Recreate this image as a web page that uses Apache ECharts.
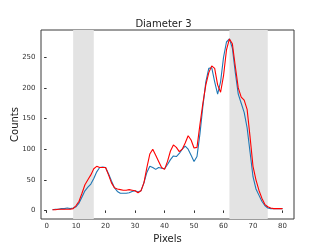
<!DOCTYPE html>
<html><head><meta charset="utf-8">
<script src="https://cdn.jsdelivr.net/npm/echarts@6/dist/echarts.min.js"></script>
<style>html,body{margin:0;padding:0;background:#fff}#c{width:327px;height:246px}</style>
</head><body><div id="c"></div>
<script>
const pixels = [];
for (let i = 2; i <= 80; i++) pixels.push(i);
const blueCounts = [1,2,2,3,3,4,3,4,6,12,22,32,38,43,52,63,70,71,70,60,48,37,31,28,28,28,29,31,32,30,32,45,62,72,70,67,70,69,68,75,83,89,88,93,100,105,100,90,80,88,125,170,210,232,233,210,190,210,250,275,280,265,225,190,175,160,135,95,55,35,25,15,8,4,3,3,3,3,3];
const redCounts = [1,1,2,2,2,2,2,3,8,15,28,42,50,58,68,72,70,70,70,58,45,37,35,34,33,33,34,33,32,29,32,45,70,92,100,90,80,70,67,80,97,107,103,96,100,110,122,115,102,103,140,175,205,225,236,232,205,193,220,262,280,272,235,200,185,180,165,120,72,50,33,20,10,6,4,3,3,3,3];
const shadedRanges = [[9,16],[62,75]];
const xTicks = [0,10,20,30,40,50,60,70,80];
const yTicks = [0,50,100,150,200,250];

const chart = echarts.init(document.getElementById('c'), null, {renderer:'canvas'});
const font = 'DejaVu Sans';
chart.setOption({
  animation:false,
  title:{text:'Diameter 3', left:'center', top:14, textStyle:{fontFamily:font,fontSize:10,fontWeight:'normal',color:'#222'}},
  grid:{left:41,right:33,top:30,bottom:27,outerBoundsMode:'none',containLabel:false,show:true,borderColor:'#3a3a3a',borderWidth:1,backgroundColor:'transparent'},
  xAxis:{type:'value',min:-1.9,max:83.9,
    name:'Pixels',nameLocation:'middle',nameGap:15,nameMoveOverlap:false,nameTextStyle:{fontFamily:font,fontSize:10,color:'#222'},
    axisLine:{show:false},splitLine:{show:false},
    axisTick:{show:true,length:2.5,customValues:xTicks,lineStyle:{color:'#333'}},
    axisLabel:{customValues:xTicks,fontFamily:font,fontSize:7,color:'#333',margin:4}},
  yAxis:{type:'value',min:-14,max:294.6,
    name:'Counts',nameLocation:'middle',nameGap:21,nameMoveOverlap:false,nameTextStyle:{fontFamily:font,fontSize:10,color:'#222'},
    axisLine:{show:false},splitLine:{show:false},
    axisTick:{show:true,length:2.5,customValues:yTicks,lineStyle:{color:'#333'}},
    axisLabel:{customValues:yTicks,fontFamily:font,fontSize:7,color:'#333',margin:5.5}},
  series:[
    {type:'line',data:pixels.map((x,i)=>[x,blueCounts[i]]),showSymbol:false,symbol:'none',
     lineStyle:{color:'#1f77b4',width:1.1},itemStyle:{color:'#1f77b4'},z:3,
     markArea:{silent:true,itemStyle:{color:'#e3e3e3'},z:1,
       data:shadedRanges.map(r=>[{xAxis:r[0]},{xAxis:r[1]}])}},
    {type:'line',data:pixels.map((x,i)=>[x,redCounts[i]]),showSymbol:false,symbol:'none',
     lineStyle:{color:'#ff0000',width:1.1},itemStyle:{color:'#ff0000'},z:4}
  ]
});
</script></body></html>
